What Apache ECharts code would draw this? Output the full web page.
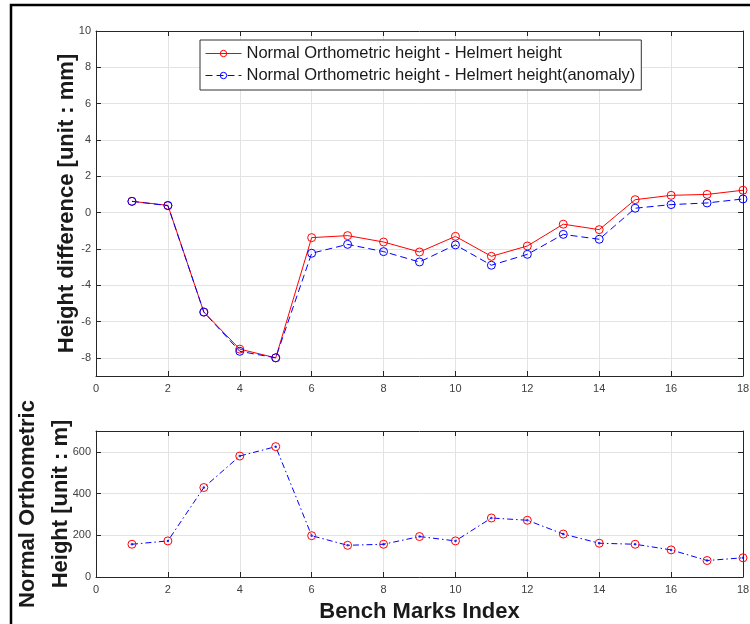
<!DOCTYPE html>
<html>
<head>
<meta charset="utf-8">
<script src="https://cdn.jsdelivr.net/npm/echarts@6/dist/echarts.min.js"></script>
<style>
html,body{margin:0;padding:0;background:#fff;}
#c{width:750px;height:624px;}
</style>
</head>
<body>
<div id="c"></div>
<script>
const benchMarks = [1,2,3,4,5,6,7,8,9,10,11,12,13,14,15,16,17,18];
const diffHelmert = [0.62,0.40,-5.48,-7.52,-8.0,-1.38,-1.27,-1.62,-2.17,-1.31,-2.41,-1.84,-0.64,-0.94,0.71,0.95,1.0,1.23];
const diffAnomaly = [0.62,0.38,-5.48,-7.64,-8.0,-2.24,-1.75,-2.15,-2.72,-1.78,-2.90,-2.30,-1.20,-1.47,0.24,0.44,0.53,0.75];
const orthoHeight = [157,173,429,580,625,198,152,157,194,173,283,272,206,162,157,130,79,92];
const topYTicks = [-8,-6,-4,-2,0,2,4,6,8,10];
const bottomYTicks = [0,200,400,600];
const xTicks = [0,2,4,6,8,10,12,14,16,18];

const pairs = (xs, ys) => xs.map((x, i) => [x, ys[i]]);

const axisColor = '#262626';
const labelColor = '#404040';
const gridColor = '#e3e3e3';
const font = 'Liberation Sans, Arial, sans-serif';

function xAxisDef(gridIndex, pos, showLabels) {
  return {
    type: 'value', gridIndex: gridIndex, position: pos, min: 0, max: 18,
    axisLine: {show: true, onZero: false, lineStyle: {color: axisColor, width: 1}},
    axisTick: {show: true, inside: true, length: 5, customValues: xTicks, lineStyle: {color: axisColor}},
    axisLabel: {show: showLabels, customValues: xTicks, color: labelColor, fontSize: 11, fontFamily: font, margin: 7},
    splitLine: {show: showLabels, lineStyle: {color: gridColor, width: 1}}
  };
}
function yAxisDef(gridIndex, pos, min, max, ticks, showLabels) {
  return {
    type: 'value', gridIndex: gridIndex, position: pos, min: min, max: max,
    axisLine: {show: true, onZero: false, lineStyle: {color: axisColor, width: 1}},
    axisTick: {show: true, inside: true, length: 5, customValues: ticks, lineStyle: {color: axisColor}},
    axisLabel: {show: showLabels, customValues: ticks, color: labelColor, fontSize: 11, fontFamily: font, margin: 5},
    splitLine: {show: showLabels, lineStyle: {color: gridColor, width: 1}}
  };
}

const xAxes = [
  xAxisDef(0, 'bottom', true),
  xAxisDef(0, 'top', false),
  Object.assign(xAxisDef(1, 'bottom', true), {
    name: 'Bench Marks Index', nameLocation: 'middle', nameGap: 24,
    nameTextStyle: {fontSize: 22, fontWeight: 'bold', color: '#1a1a1a', fontFamily: font}
  }),
  xAxisDef(1, 'top', false)
];
const yAxes = [
  Object.assign(yAxisDef(0, 'left', -9, 10, topYTicks, true), {
    name: 'Height difference [unit : mm]', nameLocation: 'middle', nameGap: 18, nameMoveOverlap: false,
    nameTextStyle: {fontSize: 22, fontWeight: 'bold', color: '#1a1a1a', fontFamily: font}
  }),
  yAxisDef(0, 'right', -9, 10, topYTicks, false),
  Object.assign(yAxisDef(1, 'left', 0, 700, bottomYTicks, true), {
    name: 'Normal Orthometric\nHeight [unit : m]', nameLocation: 'middle', nameGap: 19, nameMoveOverlap: false,
    nameTextStyle: {fontSize: 22, fontWeight: 'bold', color: '#1a1a1a', fontFamily: font, lineHeight: 33}
  }),
  yAxisDef(1, 'right', 0, 700, bottomYTicks, false)
];

const chart = echarts.init(document.getElementById('c'), null, {renderer: 'canvas'});
chart.setOption({
  animation: false,
  backgroundColor: '#ffffff',
  graphic: [{
    type: 'rect', shape: {x: 11, y: 5, width: 800, height: 700},
    style: {fill: 'none', stroke: '#000', lineWidth: 2.5}, silent: true, z: 100
  }],
  grid: [
    {left: 96, right: 7, top: 31, bottom: 248, containLabel: false, outerBoundsMode: 'none'},
    {left: 96, right: 7, top: 431, bottom: 47, containLabel: false, outerBoundsMode: 'none'}
  ],
  legend: {
    orient: 'vertical', left: 200, top: 40,
    backgroundColor: '#ffffff', borderColor: '#333', borderWidth: 1, borderRadius: 0,
    padding: [5, 6, 6, 5], itemGap: 5, itemWidth: 36, itemHeight: 8,
    lineStyle: {width: 1},
    itemStyle: {borderWidth: 1},
    textStyle: {fontSize: 16.5, color: '#1a1a1a', fontFamily: font},
    data: ['Normal Orthometric height - Helmert height', 'Normal Orthometric height - Helmert height(anomaly)']
  },
  xAxis: xAxes,
  yAxis: yAxes,
  series: [
    {
      name: 'Normal Orthometric height - Helmert height', type: 'line',
      xAxisIndex: 0, yAxisIndex: 0, data: pairs(benchMarks, diffHelmert),
      symbol: 'circle', symbolSize: 8, showAllSymbol: true,
      itemStyle: {color: 'rgba(255,255,255,0)', borderColor: '#ff0000', borderWidth: 1},
      lineStyle: {color: '#ff0000', width: 1},
      color: '#ff0000'
    },
    {
      name: 'Normal Orthometric height - Helmert height(anomaly)', type: 'line',
      xAxisIndex: 0, yAxisIndex: 0, data: pairs(benchMarks, diffAnomaly),
      symbol: 'circle', symbolSize: 8, showAllSymbol: true,
      itemStyle: {color: 'rgba(255,255,255,0)', borderColor: '#0000ff', borderWidth: 1},
      lineStyle: {color: '#0000ff', width: 1, type: [7, 4]},
      color: '#0000ff'
    },
    {
      name: 'ortho', type: 'line',
      xAxisIndex: 2, yAxisIndex: 2, data: pairs(benchMarks, orthoHeight),
      symbol: 'circle', symbolSize: 8, showAllSymbol: true,
      itemStyle: {color: 'rgba(255,255,255,0)', borderColor: '#ff0000', borderWidth: 1},
      lineStyle: {color: '#0000ff', width: 1, type: [6, 3, 1.5, 3]}
    },
    {
      name: 'orthoDots', type: 'scatter',
      xAxisIndex: 2, yAxisIndex: 2, data: pairs(benchMarks, orthoHeight),
      symbol: 'circle', symbolSize: 2.5,
      itemStyle: {color: '#0000ff'}, z: 5
    }
  ]
});
</script>
</body>
</html>
